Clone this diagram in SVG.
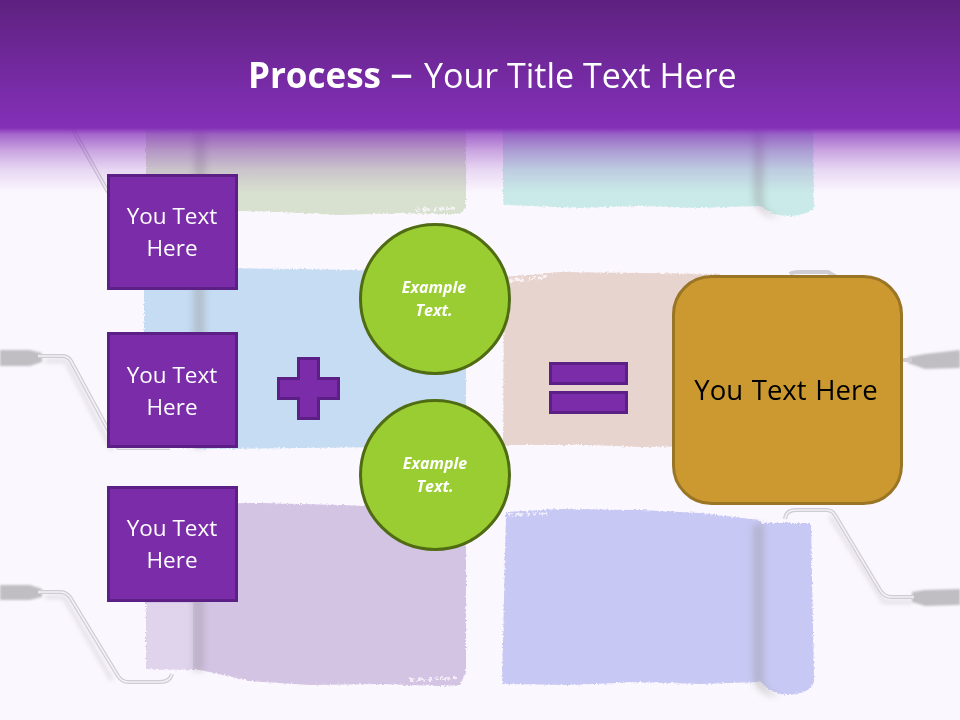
<svg xmlns="http://www.w3.org/2000/svg" width="960" height="720" viewBox="0 0 960 720">
<style>
.box{fill:#7B2DA9;stroke:#5B1F85;stroke-width:3}
.circ{fill:#9ACD32;stroke:#4F6B14;stroke-width:3}
.sym{fill:#7B2DA9;stroke:#5B1F85;stroke-width:3}
.t{font-family:"Open Sans",sans-serif;fill:#fff;text-anchor:middle;font-size:22.500px}
.e{font-family:"Open Sans",sans-serif;fill:#fff;text-anchor:middle;font-size:16px;font-weight:700;font-style:italic}
.rodo{fill:none;stroke:#cfccd3;stroke-width:4;stroke-linejoin:round}
.rodi{fill:none;stroke:#f3f1f5;stroke-width:1.6;stroke-linejoin:round}
.rods{fill:none;stroke:#b8b5bb;stroke-width:4;opacity:.35}
.grip{fill:#c0bec3}
.shade{fill:#8f8f8f;opacity:.34}
.nick{fill:none;stroke:#FBF7FE;stroke-width:2.5;stroke-dasharray:5 2 9 3 3 2;opacity:.8}
.ttl{font-family:"Open Sans",sans-serif;fill:#fff}
</style>
<defs>
<linearGradient id="head" x1="0" y1="0" x2="0" y2="1"><stop offset="0" stop-color="#5E2180"/><stop offset="1" stop-color="#8430B8"/></linearGradient>
<linearGradient id="fade" x1="0" y1="0" x2="0" y2="1"><stop offset="0" stop-color="#8430B8"/><stop offset=".1" stop-color="#8430B8" stop-opacity=".72"/><stop offset=".35" stop-color="#8430B8" stop-opacity=".42"/><stop offset=".65" stop-color="#8430B8" stop-opacity=".16"/><stop offset="1" stop-color="#8430B8" stop-opacity="0"/></linearGradient>
<filter id="rough" x="-5%" y="-5%" width="110%" height="110%"><feTurbulence type="fractalNoise" baseFrequency=".45" numOctaves="2" seed="4"/><feDisplacementMap in="SourceGraphic" scale="3.500" xChannelSelector="R" yChannelSelector="G"/></filter>
<filter id="fleck" x="-10%" y="-300%" width="120%" height="700%"><feTurbulence type="fractalNoise" baseFrequency=".3" numOctaves="2" seed="9"/><feDisplacementMap in="SourceGraphic" scale="7" xChannelSelector="R" yChannelSelector="G"/></filter>
<filter id="blur" x="-100%" y="-20%" width="300%" height="140%"><feGaussianBlur stdDeviation="3"/></filter>
<filter id="soft" x="-20%" y="-20%" width="140%" height="140%"><feGaussianBlur stdDeviation="1"/></filter>
<filter id="sh" x="-20%" y="-20%" width="140%" height="140%"><feGaussianBlur stdDeviation="2"/></filter>
</defs>
<rect width="960" height="720" fill="#FBF7FE"/>
<g id="paint">
<g filter="url(#rough)">
<path d="M146 128H466V208L460 214 440 214 400 213 340 215 280 212 205 210 146 206Z" fill="#D8E0CF"/>
<path d="M503 128H760V206L700 208 640 206 580 208 503 205Z" fill="#C9EAE8"/>
<path d="M757 128H813L814 205Q814 214 790 216Q772 216 760 206Z" fill="#C9EAE8"/>
<path d="M144 269 220 268 300 269 400 271 466 273V442L460 450 440 451 400 447 300 448 200 449 144 445Z" fill="#C6DCF2"/>
<path d="M504 277 560 272 640 273 720 274V446L640 447 590 445 503 445Z" fill="#E8D4CF"/>
<path d="M146 504 260 503 340 505 466 510V672L460 685 440 686 380 684 310 685 250 681 200 670 146 669Z" fill="#D4C4E4"/>
<path d="M506 512 560 509 640 510 700 513 760 520V682L700 684 640 682 570 685 502 684Z" fill="#C8C8F4"/>
<path d="M757 523H811L814 680Q814 692 790 695Q770 695 760 680Z" fill="#C8C8F4"/>
</g>
<path d="M146 603H193V669L175 671 146 669Z" fill="#FBF7FE" opacity=".3"/>
<g filter="url(#fleck)">
<path class="nick" d="M410 680 458 678"/><path class="nick" d="M415 210 458 208"/><path class="nick" d="M420 445 458 443"/>
<path class="nick" d="M508 281 548 277"/><path class="nick" d="M508 515 548 513"/>
</g>
<g filter="url(#blur)">
<rect x="194" y="130" width="12" height="90" class="shade"/>
<rect x="193" y="268" width="12" height="180" class="shade"/>
<rect x="193" y="503" width="11" height="168" class="shade"/>
<path d="M753 128H764V205Q768 214 780 217H770Q755 210 753 200Z" class="shade"/>
<path d="M753 524H764V682Q768 692 780 696H770Q755 690 753 680Z" class="shade"/>
</g>
</g>
<g id="rollers">
<g filter="url(#soft)">
<path class="grip" d="M0 350H30L42 353V362L30 366H0Z"/>
<path class="grip" d="M0 585H30L42 589V597L30 600H0Z"/>
<path class="grip" d="M960 350V368L925 369 908 363V357L925 354Z"/>
<path class="grip" d="M960 589V605L925 606 912 602V592L925 590Z"/>
</g>
<g filter="url(#sh)">
<path class="rods" d="M45 361H66L112 450"/>
<path class="rods" d="M45 597H64L112 680"/>
<path class="rods" d="M830 516L884 602H912"/>
</g>
<path class="rodo" d="M38 356H62Q68 356 71 361L118 448H170"/>
<path class="rodi" d="M38 356H62Q68 356 71 361L118 448H170"/>
<path class="rodo" d="M38 592H60Q66 592 70 597L118 676Q122 682 128 682H160Q170 682 172 674"/>
<path class="rodi" d="M38 592H60Q66 592 70 597L118 676Q122 682 128 682H160Q170 682 172 674"/>
<path class="rodo" d="M72 128L108 192"/>
<path class="rodi" d="M72 128L108 192"/>
<path class="rodo" d="M785 519Q786 510 796 510H826Q832 510 835 515L880 590Q884 597 892 597H914"/>
<path class="rodi" d="M785 519Q786 510 796 510H826Q832 510 835 515L880 590Q884 597 892 597H914"/>
<path class="rodo" d="M790 274Q792 272 800 272H828L838 278"/>
<path class="rodo" d="M903 360H912"/>
</g>
<rect width="960" height="128" fill="url(#head)"/>
<rect y="128" width="960" height="64" fill="url(#fade)"/>
<text class="ttl" y="88"><tspan x="248" font-size="35" font-weight="700">Process </tspan><tspan x="390" y="89" font-size="46">– </tspan><tspan x="424" y="88" font-size="34">Your Title Text Here</tspan></text>
<g id="node-box1"><rect class="box" x="108.500" y="175.500" width="128" height="113"/><text class="t" x="172" y="224">You Text</text><text class="t" x="172" y="256">Here</text></g>
<g id="node-box2"><rect class="box" x="108.500" y="333.500" width="128" height="113"/><text class="t" x="172" y="383">You Text</text><text class="t" x="172" y="415">Here</text></g>
<g id="node-box3"><rect class="box" x="108.500" y="487.500" width="128" height="113"/><text class="t" x="172" y="536">You Text</text><text class="t" x="172" y="568">Here</text></g>
<g id="node-plus"><path class="sym" d="M298.500 358.500H318.500V378.500H338.500V398.500H318.500V418.500H298.500V398.500H278.500V378.500H298.500Z"/></g>
<g id="node-c1"><circle class="circ" cx="435" cy="299" r="74.500"/><text class="e" x="434" y="293">Example</text><text class="e" x="434" y="316">Text.</text></g>
<g id="node-c2"><circle class="circ" cx="435" cy="475" r="74.500"/><text class="e" x="435" y="469">Example</text><text class="e" x="435" y="492">Text.</text></g>
<g id="node-equals"><rect class="sym" x="550.500" y="363.500" width="76" height="20"/><rect class="sym" x="550.500" y="392.500" width="76" height="20"/></g>
<g id="node-result"><rect x="673.500" y="276.500" width="228" height="227" rx="38" fill="#CB9930" stroke="#9A7526" stroke-width="3"/><text x="786" y="400" text-anchor="middle" style="font-family:'Open Sans',sans-serif;font-size:27.500px;word-spacing:1.5px" fill="#000">You Text Here</text></g>
</svg>
